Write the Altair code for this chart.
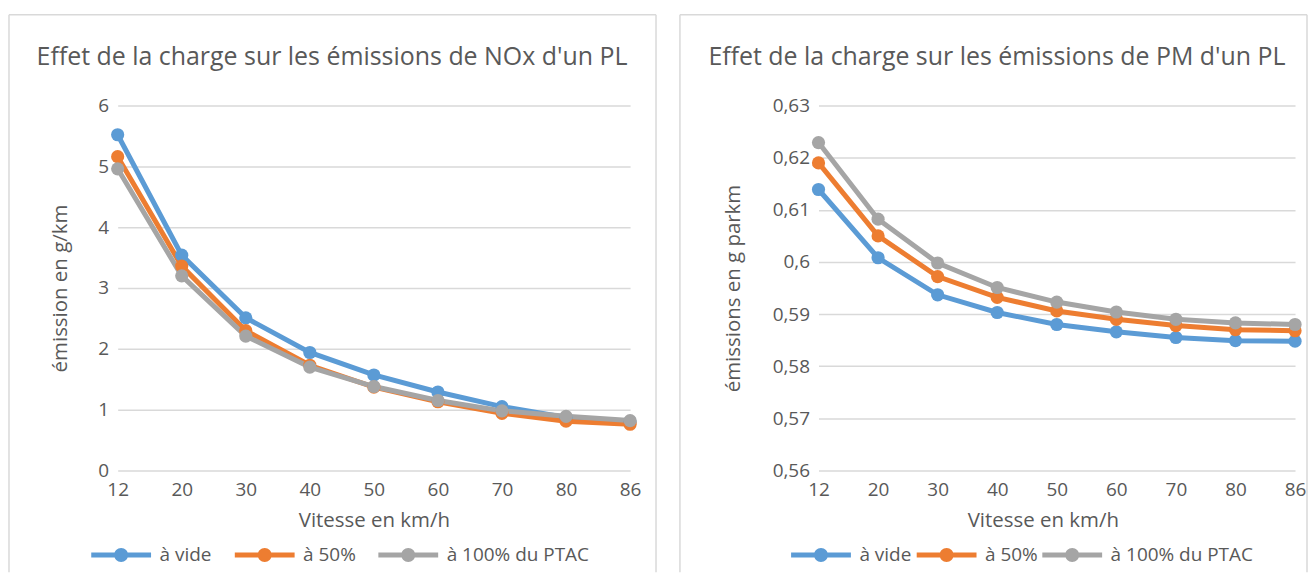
import altair as alt
import pandas as pd

speeds = ["12", "20", "30", "40", "50", "60", "70", "80", "86"]
series = ["à vide", "à 50%", "à 100% du PTAC"]
colors = ["#5B9BD5", "#ED7D31", "#A5A5A5"]

nox_vide = [5.52, 3.54, 2.51, 1.94, 1.57, 1.29, 1.05, 0.87, 0.80]
nox_50 = [5.16, 3.36, 2.30, 1.73, 1.37, 1.13, 0.94, 0.81, 0.76]
nox_100 = [4.96, 3.20, 2.21, 1.70, 1.38, 1.15, 0.98, 0.89, 0.82]

pm_vide = [0.6139, 0.6008, 0.5937, 0.5903, 0.5880, 0.5866, 0.5855, 0.5849, 0.5848]
pm_50 = [0.6190, 0.6050, 0.5972, 0.5932, 0.5906, 0.5890, 0.5878, 0.5870, 0.5868]
pm_100 = [0.6229, 0.6082, 0.5998, 0.5951, 0.5923, 0.5904, 0.5890, 0.5883, 0.5880]

nox_ticks = [0, 1, 2, 3, 4, 5, 6]
pm_ticks = [0.56, 0.57, 0.58, 0.59, 0.60, 0.61, 0.62, 0.63]

FONT = "Open Sans"
TXT = "#595959"
GRID = "#D9D9D9"

LEG_PATH = "M-1,-0.357H7.571V0.357H-1Z M4.286,0A1,1,0,1,1,2.286,0A1,1,0,1,1,4.286,0Z"


def long_df(vals):
    rows = []
    for s, v in zip(series, vals):
        for sp, y in zip(speeds, v):
            rows.append({"Vitesse": sp, "serie": s, "val": y})
    return pd.DataFrame(rows)


def panel(df, title, title_dx, ytitle, ydomain, yticks, width, height,
          ytitle_x, xtitle_x, leg_x, col_pad, border):
    xenc = alt.X("Vitesse:O", sort=speeds,
                 scale=alt.Scale(type="point", padding=0),
                 axis=alt.Axis(title="Vitesse en km/h", labelAngle=0,
                               domain=False, ticks=False, tickSize=0,
                               grid=False, labelPadding=10,
                               titleY=50, titleX=xtitle_x,
                               titleBaseline="middle"))
    yenc = alt.Y("val:Q",
                 scale=alt.Scale(domain=ydomain, nice=False, zero=False),
                 axis=alt.Axis(title=ytitle, values=yticks, domain=False,
                               ticks=False, tickSize=0, grid=True,
                               gridColor=GRID, gridWidth=1.5, labelPadding=9,
                               labelExpr="replace(format(datum.value, '.2~f'), '.', ',')",
                               titleX=ytitle_x, titleY=height / 2,
                               titleBaseline="middle", titleAlign="center"))
    cenc = alt.Color("serie:N", sort=series,
                     scale=alt.Scale(domain=series, range=colors),
                     legend=alt.Legend(title=None, orient="none",
                                       direction="horizontal",
                                       legendX=leg_x, legendY=height + 75,
                                       symbolType=LEG_PATH, symbolSize=196,
                                       symbolStrokeWidth=0,
                                       labelOffset=52, columnPadding=col_pad,
                                       padding=0, labelFont=FONT,
                                       labelFontSize=19, labelColor=TXT))
    base = alt.Chart(df).encode(x=xenc, y=yenc, color=cenc)
    lines = base.mark_line(strokeWidth=5)
    pts = base.mark_point(filled=True, size=175, opacity=1)

    bdf = pd.DataFrame({"k": [0]})
    bl, bt, br, bb = border
    rules = [
        alt.Chart(bdf).mark_rule(color=GRID, strokeWidth=1.5).encode(
            x=alt.value(bl), y=alt.value(bt), y2=alt.value(bb)),
        alt.Chart(bdf).mark_rule(color=GRID, strokeWidth=1.5).encode(
            x=alt.value(bl), x2=alt.value(br), y=alt.value(bt)),
    ]
    if br < width + 30:
        rules.append(alt.Chart(bdf).mark_rule(color=GRID, strokeWidth=1.5).encode(
            x=alt.value(br), y=alt.value(bt), y2=alt.value(bb)))
    ch = alt.layer(*rules, lines, pts).properties(
        width=width, height=height,
        title=alt.TitleParams(title, anchor="middle", dx=title_dx, offset=-56,
                              font=FONT, fontSize=25, fontWeight="normal",
                              color=TXT))
    return ch


W1, W2, H = 514, 478, 366
left = panel(long_df([nox_vide, nox_50, nox_100]),
             "Effet de la charge sur les émissions de NOx d'un PL", -42,
             "émission en g/km", [0, 6], nox_ticks, W1, H,
             -57, W1 / 2, -29, 20, (-109, -91, W1 + 26, 468))
right = panel(long_df([pm_vide, pm_50, pm_100]),
              "Effet de la charge sur les émissions de PM d'un PL", -60,
              "émissions en g parkm", [0.56, 0.63], pm_ticks, W2, H,
              -85, 225, -30, 2, (-139, -91, W2 + 12, 468))

chart = alt.hconcat(left, right, spacing=22).resolve_scale(
    color="independent", x="independent", y="independent"
).resolve_legend(color="independent").properties(
    padding={"left": 0, "top": 5, "right": 0, "bottom": 0}
).configure_view(stroke=None).configure_axis(
    labelFont=FONT, labelFontSize=19, labelColor=TXT,
    titleFont=FONT, titleFontSize=20.5, titleColor=TXT, titleFontWeight="normal"
)

chart.save("out.html", embed_options={"renderer": "svg", "actions": False})
